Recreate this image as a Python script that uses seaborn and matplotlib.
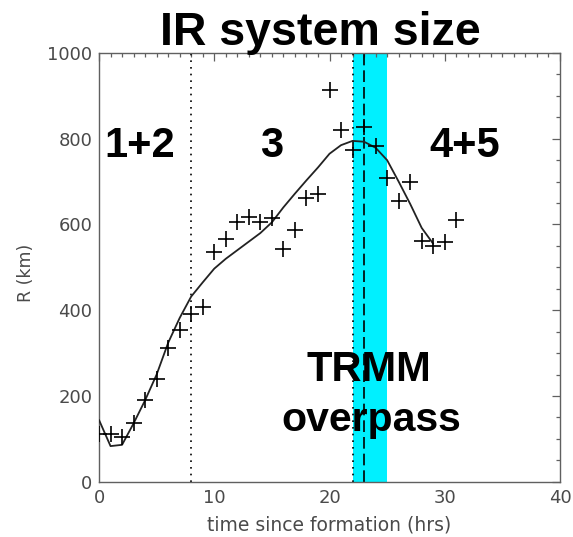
import matplotlib
matplotlib.use("Agg")
import matplotlib.pyplot as plt
from matplotlib.ticker import MultipleLocator
import seaborn as sns

# Observed IR system radius, hourly after formation
obs_hours = [0, 1, 2, 3, 4, 5, 6, 7, 8, 9, 10, 11, 12, 13, 14, 15,
             16, 17, 18, 19, 20, 21, 22, 23, 24, 25, 26, 27, 28, 29, 30, 31]
obs_radius = [111, 111, 105, 138, 190, 240, 313, 355, 391, 408, 536, 565,
              605, 618, 605, 614, 542, 587, 662, 670, 914, 820, 774, 828,
              783, 708, 655, 698, 562, 550, 560, 610]

# Smoothed radius curve
fit_hours = [0, 1, 2, 3, 4, 5, 6, 7, 8, 9, 10, 11, 12, 13, 14,
             15, 16, 17, 18, 19, 20, 21, 22, 23, 24, 25, 26, 27, 28, 29]
fit_radius = [144, 83, 86, 136, 190, 250, 324, 382, 432, 465, 497, 520,
              540, 560, 580, 605, 640, 672, 703, 733, 765, 785, 795, 793,
              779, 750, 700, 648, 592, 555]

# Stage boundaries, overpass time and overpass window
stage_bounds = [8, 22]
overpass_time = 23
overpass_window = (22, 25)

stage_labels = ["1+2", "3", "4+5"]
stage_label_x = [3.56, 15.0, 31.7]
stage_label_y = 758

sns.set_style("white")
plt.rcParams["font.family"] = ["Liberation Sans", "DejaVu Sans"]

fig = plt.figure(figsize=(5.73, 5.37), dpi=100)
ax = fig.add_axes([0.1728, 0.1030, 0.8045, 0.7983])

ax.axvspan(*overpass_window, color="#00f0ff", lw=0, zorder=0)
for xb in stage_bounds:
    ax.axvline(xb, color="black", lw=1.2, ls=(0, (1, 3)), zorder=1)
ax.axvline(overpass_time, color="black", lw=1.2, ls=(0, (7, 3)), zorder=1)

sns.lineplot(x=fit_hours, y=fit_radius, ax=ax, color="#222222", lw=1.3,
             zorder=3)
sns.scatterplot(x=obs_hours, y=obs_radius, ax=ax, marker="+", s=120,
                color="black", linewidth=1.2, zorder=4)

ax.set_xlim(0, 40)
ax.set_ylim(0, 1000)
ax.xaxis.set_major_locator(MultipleLocator(10))
ax.xaxis.set_minor_locator(MultipleLocator(1))
ax.yaxis.set_major_locator(MultipleLocator(200))
ax.yaxis.set_minor_locator(MultipleLocator(50))

axis_grey = "#606060"
label_grey = "#4a4a4a"
for sp in ax.spines.values():
    sp.set_visible(True)
    sp.set_color(axis_grey)
    sp.set_linewidth(1.0)
ax.tick_params(which="both", direction="in", top=True, right=True,
               color=axis_grey, labelcolor=label_grey, width=0.9)
ax.tick_params(which="major", length=5.5)
ax.tick_params(which="minor", length=3)
ax.tick_params(axis="x", which="major", pad=5.3)
ax.tick_params(axis="y", which="major", pad=4.7)
for lab in ax.get_xticklabels() + ax.get_yticklabels():
    lab.set_family("DejaVu Sans")
    lab.set_fontsize(13)

ax.set_xlabel("time since formation (hrs)", family="DejaVu Sans",
              fontsize=13.5, color=label_grey)
ax.set_ylabel("R (km)", family="DejaVu Sans", fontsize=12.5,
              color=label_grey)
ax.xaxis.set_label_coords(0.5, -0.08)
ax.yaxis.set_label_coords(-0.138, 0.487)

bold = dict(fontweight="bold", color="black", ha="center", va="baseline",
            family="Liberation Sans")
for txt, xt in zip(stage_labels, stage_label_x):
    ax.text(xt, stage_label_y, txt, fontsize=30, zorder=5, clip_on=False,
            **bold)
ax.text(23.4, 236, "TRMM", fontsize=30, zorder=5, **bold)
ax.text(23.6, 119, "overpass", fontsize=29.5, zorder=5, **bold)

fig.text(320 / 573, 1 - 45 / 537, "IR system size", fontsize=33.5, **bold)

fig.savefig("out.png", dpi=100)
